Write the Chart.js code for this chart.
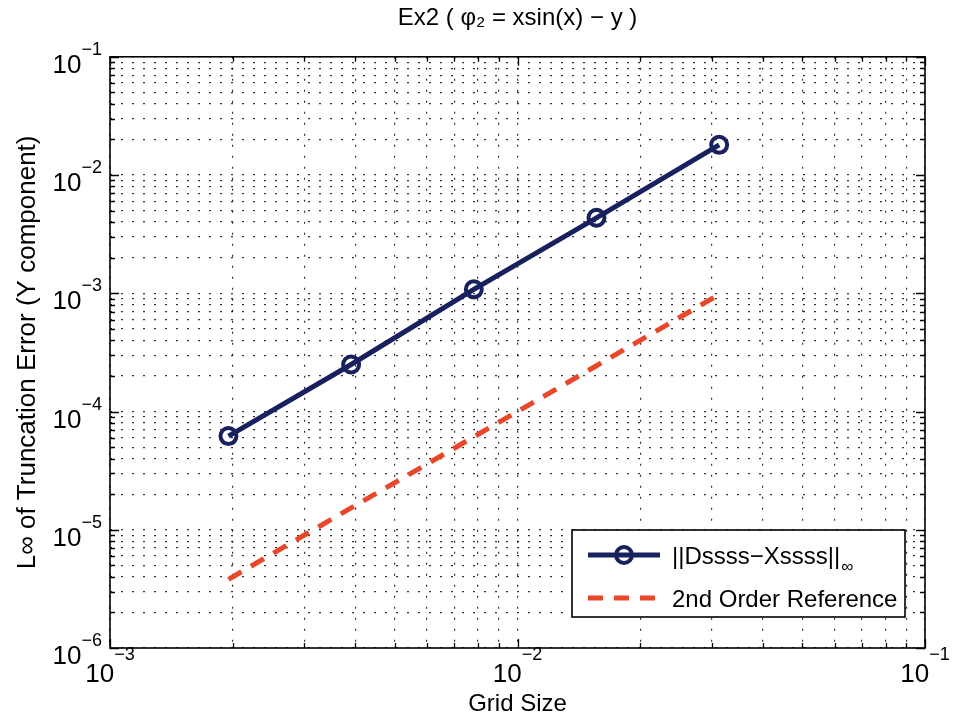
<!DOCTYPE html>
<html><head><meta charset="utf-8">
<script src="https://cdn.jsdelivr.net/npm/chart.js@4.4.0/dist/chart.umd.min.js"></script>
<style>html,body{margin:0;padding:0;background:#fff;}#wrap{width:953px;height:725px;}</style>
</head><body><div id="wrap"><canvas id="c" width="953" height="725"></canvas></div>
<script>
// ---- data ----
const gridSize = [0.001953, 0.003906, 0.0078125, 0.015625, 0.03125];
const errorY   = [6.2e-5, 2.5e-4, 1.08e-3, 4.35e-3, 1.8e-2];
const refY     = [3.81e-6, 1.53e-5, 6.1e-5, 2.44e-4, 9.77e-4];
const seriesLabels = ['||Dssss\u2212Xssss||\u221E', '2nd Order Reference'];
const xMajorExps = [-3, -2, -1];
const yMajorExps = [-6, -5, -4, -3, -2, -1];
const xGridValues = [0.001,0.002,0.003,0.004,0.005,0.006,0.007,0.008,0.009,
  0.01,0.02,0.03,0.04,0.05,0.06,0.07,0.08,0.09,0.1];
const yGridValues = [1e-6,2e-6,3e-6,4e-6,5e-6,6e-6,7e-6,8e-6,9e-6,
  1e-5,2e-5,3e-5,4e-5,5e-5,6e-5,7e-5,8e-5,9e-5,
  1e-4,2e-4,3e-4,4e-4,5e-4,6e-4,7e-4,8e-4,9e-4,
  1e-3,2e-3,3e-3,4e-3,5e-3,6e-3,7e-3,8e-3,9e-3,
  1e-2,2e-2,3e-2,4e-2,5e-2,6e-2,7e-2,8e-2,9e-2,1e-1];
const titleText = 'Ex2 ( \u03C6\u2082 = xsin(x) \u2212 y )';
const xTitle = 'Grid Size';
const yTitle = 'L\u221E of Truncation Error (Y component)';

const FONT = "'Liberation Sans', Arial, Helvetica, sans-serif";
const BLUE = '#19205e';
const RED = '#e8472b';
Chart.defaults.font.family = FONT;
Chart.defaults.color = '#000';

function isMajor(v){ const l = Math.log10(v); return Math.abs(l - Math.round(l)) < 1e-9; }

const axesPlugin = {
  id: 'matlabAxes',
  afterDatasetsDraw(chart) {
    const ctx = chart.ctx, a = chart.chartArea;
    const xs = chart.scales.x, ys = chart.scales.y;
    ctx.save();
    // inward ticks
    ctx.strokeStyle = '#000'; ctx.lineWidth = 1.3; ctx.setLineDash([]);
    ctx.beginPath();
    xGridValues.forEach(v => {
      const px = Math.round(xs.getPixelForValue(v)) + 0.5;
      const L = isMajor(v) ? 9 : 5;
      ctx.moveTo(px, a.bottom); ctx.lineTo(px, a.bottom - L);
      ctx.moveTo(px, a.top); ctx.lineTo(px, a.top + L);
    });
    yGridValues.forEach(v => {
      const py = Math.round(ys.getPixelForValue(v)) + 0.5;
      const L = isMajor(v) ? 9 : 5;
      ctx.moveTo(a.left, py); ctx.lineTo(a.left + L, py);
      ctx.moveTo(a.right, py); ctx.lineTo(a.right - L, py);
    });
    ctx.stroke();
    // frame
    ctx.lineWidth = 1.6;
    ctx.strokeRect(a.left, a.top, a.right - a.left, a.bottom - a.top);
    // tick labels
    ctx.fillStyle = '#000';
    const bigF = '26px ' + FONT, smallF = '18px ' + FONT;
    xMajorExps.forEach(e => {
      const px = xs.getPixelForValue(Math.pow(10, e));
      const exp = '\u2212' + Math.abs(e);
      ctx.font = bigF; const w1 = ctx.measureText('10').width;
      ctx.font = smallF; const w2 = ctx.measureText(exp).width;
      const x0 = px - (w1 + w2) / 2;
      ctx.textAlign = 'left'; ctx.textBaseline = 'alphabetic';
      ctx.font = bigF; ctx.fillText('10', x0, a.bottom + 34);
      ctx.font = smallF; ctx.fillText(exp, x0 + w1, a.bottom + 12);
    });
    yMajorExps.forEach(e => {
      const py = ys.getPixelForValue(Math.pow(10, e));
      const exp = '\u2212' + Math.abs(e);
      ctx.font = smallF; const w2 = ctx.measureText(exp).width;
      const right = a.left - 8;
      ctx.textAlign = 'left'; ctx.textBaseline = 'alphabetic';
      ctx.font = bigF; const w1 = ctx.measureText('10').width;
      ctx.fillText('10', right - w2 - w1, py + 16);
      ctx.font = smallF; ctx.fillText(exp, right - w2, py - 2);
    });
    // legend box
    const bx1 = a.right - 353, bx2 = a.right - 20, by1 = a.bottom - 118, by2 = a.bottom - 31;
    ctx.fillStyle = '#fff';
    ctx.fillRect(bx1, by1, bx2 - bx1, by2 - by1);
    ctx.strokeStyle = '#000'; ctx.lineWidth = 1.6;
    ctx.strokeRect(bx1, by1, bx2 - bx1, by2 - by1);
    const ds = chart.data.datasets;
    const rows = [by1 + 25, by1 + 68];
    ds.forEach((d, i) => {
      const y = rows[i];
      ctx.strokeStyle = d.borderColor; ctx.lineWidth = d.borderWidth;
      ctx.setLineDash(d.borderDash || []);
      ctx.beginPath(); ctx.moveTo(bx1 + 16, y); ctx.lineTo(bx1 + 88, y); ctx.stroke();
      ctx.setLineDash([]);
      if (d.pointRadius > 0) {
        ctx.lineWidth = d.pointBorderWidth;
        ctx.beginPath(); ctx.arc(bx1 + 52, y, d.pointRadius, 0, Math.PI * 2); ctx.stroke();
      }
      ctx.fillStyle = '#000';
      ctx.font = '24px ' + FONT; ctx.textAlign = 'left'; ctx.textBaseline = 'alphabetic';
      let lab = d.label, sub = '';
      if (lab.endsWith('\u221E')) { sub = '\u221E'; lab = lab.slice(0, -1); }
      ctx.fillText(lab, bx1 + 100, y + 9);
      if (sub) {
        const w = ctx.measureText(lab).width;
        ctx.font = '17px ' + FONT; ctx.fillText(sub, bx1 + 100 + w + 1, y + 17);
      }
    });
    ctx.restore();
  }
};

new Chart(document.getElementById('c'), {
  type: 'line',
  data: {
    datasets: [
      { label: seriesLabels[0], data: gridSize.map((x, i) => ({ x: x, y: errorY[i] })),
        borderColor: BLUE, borderWidth: 5, pointRadius: 8, pointHoverRadius: 8,
        pointBorderWidth: 4, pointBorderColor: BLUE, pointBackgroundColor: 'rgba(0,0,0,0)',
        tension: 0, fill: false },
      { label: seriesLabels[1], data: gridSize.map((x, i) => ({ x: x, y: refY[i] })),
        borderColor: RED, borderWidth: 5, borderDash: [15, 11], pointRadius: 0,
        tension: 0, fill: false }
    ]
  },
  options: {
    responsive: false, animation: false, devicePixelRatio: 1,
    layout: { padding: { left: 0, right: 28, top: 0, bottom: 0 } },
    plugins: {
      legend: { display: false }, tooltip: { enabled: false },
      title: { display: true, fullSize: false, text: titleText, color: '#000',
        font: { family: FONT, size: 24, weight: 'normal' }, padding: { top: 4, bottom: 24 } }
    },
    scales: {
      x: {
        type: 'logarithmic', min: 0.001, max: 0.1,
        afterBuildTicks: s => { s.ticks = xGridValues.map(v => ({ value: v })); },
        afterFit: s => { s.height = 77; },
        ticks: { display: false },
        grid: { color: 'rgba(0,0,0,0.8)', lineWidth: 1.2, drawTicks: false },
        border: { display: false, dash: [2, 9] },
        title: { display: true, text: xTitle, color: '#000',
          font: { family: FONT, size: 24 }, padding: { top: 0, bottom: 6 } }
      },
      y: {
        type: 'logarithmic', min: 1e-6, max: 1e-1,
        afterBuildTicks: s => { s.ticks = yGridValues.map(v => ({ value: v })); },
        afterFit: s => { s.width = 110; },
        ticks: { display: false },
        grid: { color: 'rgba(0,0,0,0.8)', lineWidth: 1.2, drawTicks: false },
        border: { display: false, dash: [2, 9] },
        title: { display: true, text: yTitle, color: '#000',
          font: { family: FONT, size: 26 }, padding: { top: 12, bottom: 0 } }
      }
    }
  },
  plugins: [axesPlugin]
});
</script></body></html>
